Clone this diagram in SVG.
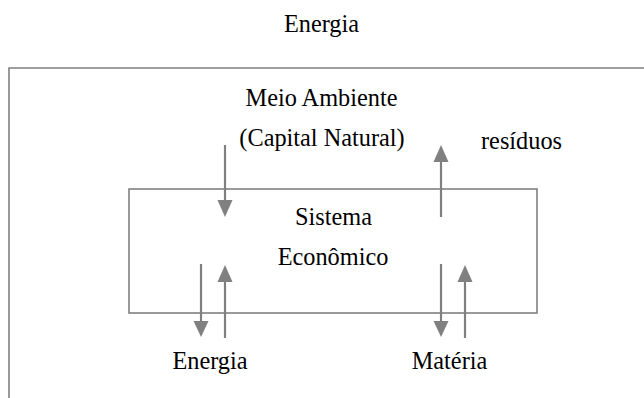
<svg xmlns="http://www.w3.org/2000/svg" width="644" height="398" viewBox="0 0 644 398">
<defs>
<style>
.t{font-family:"Liberation Serif","Times New Roman",serif;font-size:24.3px;fill:#000;text-anchor:middle}
.box{fill:none;stroke:#808080;stroke-width:1.6}
.ar{stroke:#808080;stroke-width:2.2;fill:none}
.hd{fill:#808080}
</style>
</defs>
<rect width="644" height="398" fill="#fff"/>
<text class="t" x="321.5" y="32">Energia</text>
<g id="meio-ambiente">
<path class="box" d="M9,398 V68 H644"/>
<text class="t" x="321.5" y="106">Meio Ambiente</text>
<text class="t" x="322" y="146">(Capital Natural)</text>
</g>
<g id="sistema-economico">
<rect class="box" x="129" y="189" width="408" height="124"/>
<text class="t" x="333.5" y="225">Sistema</text>
<text class="t" x="333" y="265">Econômico</text>
</g>
<g id="residuos"><text class="t" x="521.5" y="149">resíduos</text></g>
<g id="energia"><text class="t" x="210" y="369">Energia</text></g>
<g id="materia"><text class="t" x="449.5" y="369">Matéria</text></g>
<g id="connectors">
<line class="ar" x1="225" y1="145" x2="225" y2="200"/>
<path class="hd" d="M217.5,200 L232.5,200 L225,217 Z"/>
<line class="ar" x1="441" y1="217" x2="441" y2="162"/>
<path class="hd" d="M433.5,162 L448.5,162 L441,145 Z"/>
<line class="ar" x1="201" y1="264" x2="201" y2="321"/>
<path class="hd" d="M193.5,321 L208.5,321 L201,337 Z"/>
<line class="ar" x1="225" y1="338" x2="225" y2="282"/>
<path class="hd" d="M217.5,282 L232.5,282 L225,265 Z"/>
<line class="ar" x1="441" y1="264" x2="441" y2="321"/>
<path class="hd" d="M433.5,321 L448.5,321 L441,337 Z"/>
<line class="ar" x1="465" y1="338" x2="465" y2="282"/>
<path class="hd" d="M457.5,282 L472.5,282 L465,265 Z"/>
</g>
</svg>
